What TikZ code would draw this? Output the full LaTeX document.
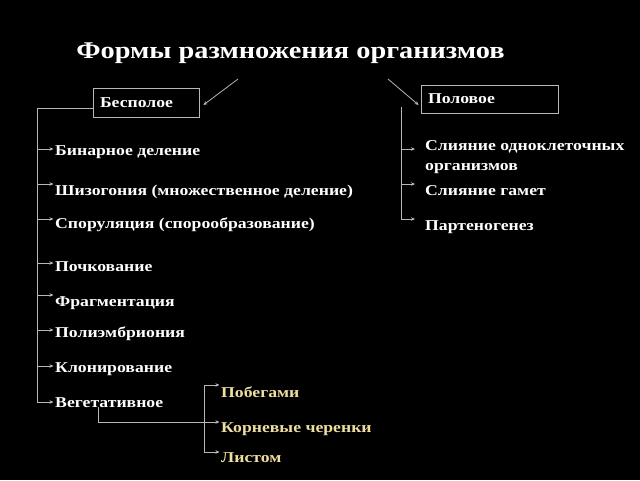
\documentclass[tikz,border=0pt]{standalone}
\usepackage{fontspec}
\setmainfont{Liberation Serif}[FakeStretch=1.18]
\usetikzlibrary{arrows.meta}
\definecolor{linegray}{HTML}{B8B8B8}
\definecolor{subyellow}{HTML}{EEDFA0}
\begin{document}
\begin{tikzpicture}[x=1pt,y=-1pt,
  ln/.style={draw=linegray,line width=0.8pt},
  arr/.style={ln,-{Stealth[length=4pt,width=3.5pt]},shorten >=1.5pt},
  item/.style={anchor=base west,inner sep=0pt,text=white,font=\bfseries\fontsize{15}{20}\selectfont},
  subitem/.style={item,text=subyellow},
  boxnode/.style={draw=linegray,line width=0.8pt,text=white,font=\bfseries\fontsize{15}{18}\selectfont,align=left,inner xsep=7pt,inner ysep=0pt}]
\fill[black] (0,0) rectangle (640,480);
\useasboundingbox (0,0) rectangle (640,480);
% title
\node[anchor=base,inner sep=0pt,text=white,font=\bfseries\fontsize{24}{28}\selectfont] (title) at (290.5,58) {Формы размножения организмов};
% boxes
\node[boxnode,text width=92pt,minimum height=29pt] (bes) at (146,102.5) {Бесполое};
\node[boxnode,text width=123pt,minimum height=28pt] (pol) at (489.5,99) {Половое};
% title arrows
\coordinate (ta) at (238,79);
\coordinate (tb) at (388,79);
\draw[arr,shorten >=0pt] (ta) -- ([xshift=4pt,yshift=-2.5pt]bes.east);
\draw[arr,shorten >=0pt] (tb) -- ([xshift=-2pt,yshift=-6pt]pol.west);
% left items
\node[item] (i1) at (55,155) {Бинарное деление};
\node[item] (i2) at (55,195) {Шизогония (множественное деление)};
\node[item] (i3) at (55,228) {Споруляция (спорообразование)};
\node[item] (i4) at (55,271) {Почкование};
\node[item] (i5) at (55,306) {Фрагментация};
\node[item] (i6) at (55,337) {Полиэмбриония};
\node[item] (i7) at (55,372) {Клонирование};
\node[item] (i8) at (55,407) {Вегетативное};
\coordinate (t0) at (37,108);
\coordinate (t1) at (37,149);
\coordinate (t2) at (37,184);
\coordinate (t3) at (37,219);
\coordinate (t4) at (37,263);
\coordinate (t5) at (37,295);
\coordinate (t6) at (37,330);
\coordinate (t7) at (37,366);
\coordinate (t8) at (37,402);
\draw[ln] (bes.west |- t0) -- (t0) -- (t8);
\foreach \k in {1,...,8} \draw[arr] (t\k) -- (t\k -| i\k.west);
% right items
\node[item,align=left] (r1) at (425,170) {Слияние одноклеточных\\организмов};
\node[item] (r2) at (425,195) {Слияние гамет};
\node[item] (r3) at (425,230) {Партеногенез};
\coordinate (s0) at (401,107);
\coordinate (s1) at (401,149);
\coordinate (s2) at (401,184);
\coordinate (s3) at (401,219);
\draw[ln] (s0) -- (s3);
\foreach \k in {1,2,3} \draw[arr,shorten >=10pt] (s\k) -- (s\k -| r\k.west);
% vegetative sub-items
\node[subitem] (v1) at (221,397) {Побегами};
\node[subitem] (v2) at (221,432) {Корневые черенки};
\node[subitem] (v3) at (221,462) {Листом};
\coordinate (u0) at (98,407);
\coordinate (u1) at (204,385);
\coordinate (u2) at (204,422);
\coordinate (u3) at (204,452);
\draw[ln] (u1) -- (u3);
\draw[arr] (u0) -- (u0 |- u2) -- (u2 -| v2.west);
\draw[arr] (u1) -- (u1 -| v1.west);
\draw[arr] (u3) -- (u3 -| v3.west);
\end{tikzpicture}
\end{document}
